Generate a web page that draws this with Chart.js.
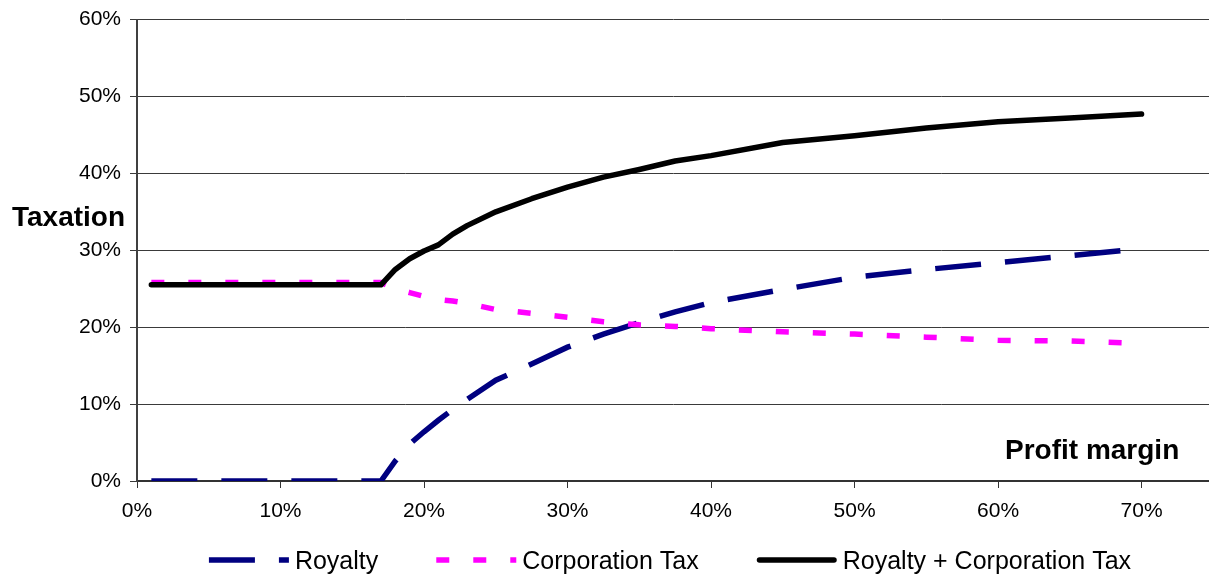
<!DOCTYPE html>
<html>
<head>
<meta charset="utf-8">
<title>Royalty and Corporation Tax by Profit Margin</title>
<script src="https://cdn.jsdelivr.net/npm/chart.js@4/dist/chart.umd.min.js"></script>
<style>
  html, body { margin: 0; padding: 0; background: #fff; }
  #wrap { width: 1209px; height: 574px; }
</style>
</head>
<body>
<div id="wrap"><canvas id="chart" width="1209" height="574"></canvas></div>
<script>
// Profit margin (%) along the x axis
const profitMargin = [1, 5, 10, 15, 17, 18, 19, 20, 21, 22, 23, 25, 27.5, 30, 32.5, 35, 37.5, 40, 45, 50, 55, 60, 65, 70];
// Effective tax take (% of revenue) for each margin
const royalty = [0, 0, 0, 0, 0, 2.6, 4.8, 6.4, 7.9, 9.3, 10.6, 13.1, 15.2, 17.4, 19.1, 20.6, 22.0, 23.2, 24.9, 26.5, 27.5, 28.4, 29.3, 30.2];
const corporationTax = [25.8, 25.8, 25.8, 25.8, 25.8, 25.0, 24.5, 24.0, 23.6, 23.4, 23.1, 22.3, 21.8, 21.3, 20.7, 20.3, 20.1, 19.8, 19.4, 19.1, 18.7, 18.3, 18.2, 17.9];
const totalTax = [25.5, 25.5, 25.5, 25.5, 25.5, 27.5, 28.9, 29.9, 30.7, 32.1, 33.2, 35.0, 36.7, 38.2, 39.5, 40.5, 41.6, 42.3, 44.0, 44.9, 45.9, 46.7, 47.2, 47.7];

const seriesLabels = ['Royalty', 'Corporation Tax', 'Royalty + Corporation Tax'];
const xTickValues = [0, 10, 20, 30, 40, 50, 60, 70];
const yAxisTitle = 'Taxation';
const xAxisTitle = 'Profit margin';

const FONT = "'Liberation Sans', Arial, Helvetica, sans-serif";
Chart.defaults.font.family = FONT;
Chart.defaults.color = '#000';

const toPoints = (ys) => profitMargin.map((x, i) => ({ x, y: ys[i] }));

// Axis titles drawn inside the plot frame
const axisTitles = {
  id: 'axisTitles',
  afterDraw(chart) {
    const { ctx } = chart;
    ctx.save();
    ctx.fillStyle = '#000';
    ctx.font = 'bold 28px ' + FONT;
    ctx.textAlign = 'left';
    ctx.textBaseline = 'alphabetic';
    ctx.fillText(yAxisTitle, 12, 226);
    ctx.fillText(xAxisTitle, 1005, 459);
    ctx.restore();
  }
};

// Legend row under the x axis, centred on the plot area
const lineLegend = {
  id: 'lineLegend',
  afterDraw(chart) {
    const { ctx, chartArea } = chart;
    const sampleW = 80, textGap = 6, itemGap = 58, y = 560;
    ctx.save();
    ctx.font = '25px ' + FONT;
    const items = chart.data.datasets.map(ds => ({ ds, w: ctx.measureText(ds.label).width }));
    const total = items.reduce((s, it) => s + sampleW + textGap + it.w, 0) + itemGap * (items.length - 1);
    let x = (chartArea.left + chartArea.right) / 2 - total / 2 - 3;
    items.forEach(({ ds, w }) => {
      ctx.beginPath();
      ctx.strokeStyle = ds.borderColor;
      ctx.lineWidth = ds.borderWidth;
      ctx.lineCap = ds.borderCapStyle || 'butt';
      ctx.setLineDash(ds.borderDash || []);
      const inset = ctx.lineCap === 'round' ? ds.borderWidth / 2 : 0;
      ctx.moveTo(x + inset, y);
      ctx.lineTo(x + sampleW - inset, y);
      ctx.stroke();
      ctx.setLineDash([]);
      ctx.fillStyle = '#000';
      ctx.textAlign = 'left';
      ctx.textBaseline = 'alphabetic';
      ctx.fillText(ds.label, x + sampleW + textGap, y + 8.5);
      x += sampleW + textGap + w + itemGap;
    });
    ctx.restore();
  }
};

new Chart(document.getElementById('chart'), {
  type: 'line',
  data: {
    datasets: [
      {
        label: seriesLabels[0],
        data: toPoints(royalty),
        borderColor: '#000080',
        borderWidth: 5.5,
        borderDash: [46, 24],
        borderCapStyle: 'butt',
        order: 2
      },
      {
        label: seriesLabels[1],
        data: toPoints(corporationTax),
        borderColor: '#ff00ff',
        borderWidth: 5.5,
        borderDash: [13, 24],
        borderCapStyle: 'butt',
        order: 1
      },
      {
        label: seriesLabels[2],
        data: toPoints(totalTax),
        borderColor: '#000000',
        borderWidth: 5.5,
        borderCapStyle: 'round',
        borderJoinStyle: 'round',
        order: 0
      }
    ]
  },
  options: {
    responsive: false,
    animation: false,
    events: [],
    elements: {
      point: { radius: 0 },
      line: { tension: 0, fill: false }
    },
    layout: { padding: { top: 12, right: 0, bottom: 0, left: 0 } },
    plugins: {
      legend: { display: false },
      tooltip: { enabled: false }
    },
    scales: {
      x: {
        type: 'linear',
        min: 0,
        max: 74.7,
        afterBuildTicks(scale) {
          scale.ticks = xTickValues.map(v => ({ value: v }));
        },
        afterFit(scale) { scale.height = 93; },
        grid: {
          drawOnChartArea: false,
          drawTicks: true,
          tickLength: 7,
          color: '#333',
          lineWidth: 1
        },
        border: { display: true, color: '#333', width: 2 },
        ticks: {
          font: { size: 21 },
          padding: 11,
          maxRotation: 0,
          callback: v => v + '%'
        }
      },
      y: {
        min: 0,
        max: 60,
        afterFit(scale) { scale.width = 137; },
        grid: {
          drawOnChartArea: true,
          drawTicks: true,
          tickLength: 7,
          color: '#3a3a3a',
          lineWidth: 1
        },
        border: { display: true, color: '#404040', width: 2 },
        ticks: {
          stepSize: 10,
          font: { size: 21, lineHeight: 1 },
          padding: 9,
          callback: v => v + '%'
        }
      }
    }
  },
  plugins: [axisTitles, lineLegend]
});
</script>
</body>
</html>
